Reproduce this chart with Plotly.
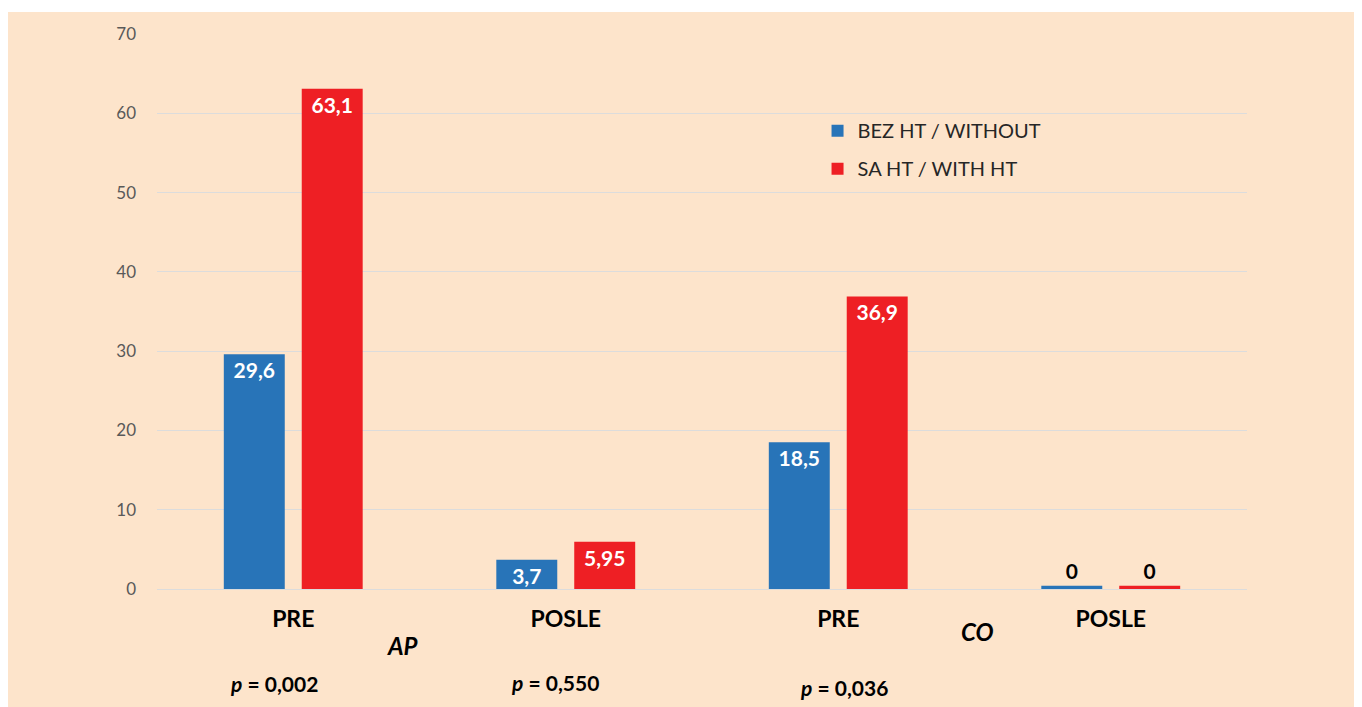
import plotly.graph_objects as go

# data
categories = ["PRE", "POSLE", "PRE", "POSLE"]
without_ht = [29.6, 3.7, 18.5, 0]
with_ht = [63.1, 5.95, 36.9, 0]
p_values = ["0,002", "0,550", "0,036"]
groups = ["AP", "CO"]
y_ticks = [0, 10, 20, 30, 40, 50, 60, 70]

BLUE = "#2874B8"
RED = "#EE1F24"
PEACH = "#FDE4CB"
x = list(range(len(categories)))


def fmt(v):
    return f"{v:g}".replace(".", ",")


def shown(v):
    # zero bars are drawn as a thin sliver in the original
    return v if v > 0 else 0.4


def label_pos(vals):
    return ["inside" if v > 0 else "outside" for v in vals]


def label_col(vals):
    return ["white" if v > 0 else "black" for v in vals]


fig = go.Figure()
for i, (name, vals, col) in enumerate([("BEZ HT / WITHOUT", without_ht, BLUE),
                                       ("SA HT / WITH HT", with_ht, RED)]):
    fig.add_trace(go.Bar(
        x=x, y=[shown(v) for v in vals], name=name,
        legendgroup=f"g{i}",
        marker=dict(color=col, line=dict(width=0)),
        text=[fmt(v) for v in vals],
        textposition=label_pos(vals),
        insidetextanchor="end",
        textfont=dict(family="Lato", size=21, color=label_col(vals), weight="bold"),
        constraintext="none",
        cliponaxis=False,
        hoverinfo="skip",
    ))

annotations = []
for g, gx, gy in zip(groups, [0.40, 2.51], [-0.101, -0.076]):
    annotations.append(dict(
        x=gx, y=gy, xref="x", yref="paper", showarrow=False,
        xanchor="center", yanchor="middle",
        text=f"<b><i>{g}</i></b>",
        font=dict(family="Lato", size=24, color="black")))
for p, px, py in zip(p_values, [-0.07, 0.96, 2.02], [-0.171, -0.169, -0.178]):
    annotations.append(dict(
        x=px, y=py, xref="x", yref="paper", showarrow=False,
        xanchor="center", yanchor="middle",
        text=f"<b><i>p</i> = {p}</b>",
        font=dict(family="Lato", size=21, color="black")))

fig.update_layout(
    width=1354, height=699,
    margin=dict(l=149, r=115, t=26, b=118),
    paper_bgcolor="white",
    plot_bgcolor=PEACH,
    barmode="group",
    bargap=0.428,
    bargroupgap=0.218,
    showlegend=True,
    legend=dict(x=0.606, y=0.861, xanchor="left", yanchor="top",
                bgcolor="rgba(0,0,0,0)", traceorder="grouped",
                font=dict(family="Lato", size=20, color="#262626"),
                tracegroupgap=9, itemsizing="constant"),
    xaxis=dict(tickvals=x, ticktext=[f"<b>{c}</b>" for c in categories],
               range=[-0.5, len(categories) - 0.5],
               showgrid=False, zeroline=False, showline=False, ticks="",
               ticklabelstandoff=14,
               tickfont=dict(family="Lato", size=23, color="black"),
               fixedrange=True),
    yaxis=dict(range=[0, 70], tickvals=y_ticks, showgrid=True,
               gridcolor="#DCDCDC", gridwidth=1, zeroline=True,
               zerolinecolor="#DCDCDC", zerolinewidth=1, showline=False,
               ticks="", ticklabelstandoff=20,
               tickfont=dict(family="Lato", size=17, color="#595959"),
               fixedrange=True),
    annotations=annotations,
    shapes=[dict(type="rect", xref="paper", yref="paper", layer="below",
                 x0=-0.2, x1=1.2, y0=-0.3, y1=1.0396,
                 fillcolor=PEACH, line=dict(width=0))],
)

fig.write_html("out.html")
